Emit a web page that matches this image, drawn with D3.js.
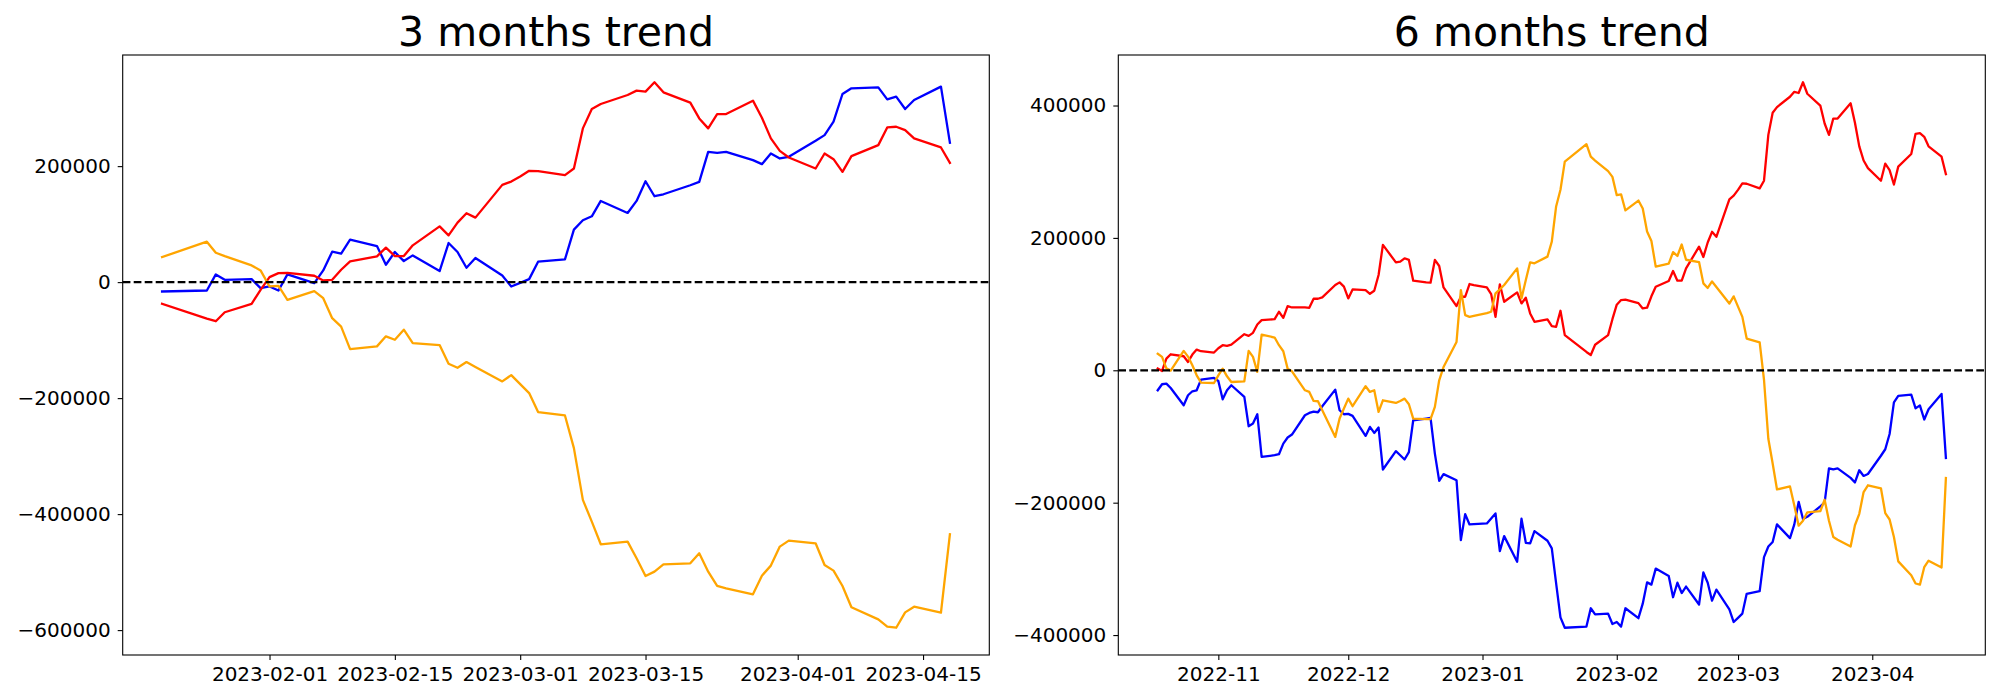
<!DOCTYPE html>
<html><head><meta charset="utf-8">
<script src="https://cdn.jsdelivr.net/npm/d3@7"></script>
<style>body{margin:0;background:#fff}</style>
</head><body>
<svg id="chart" width="2000" height="700"></svg>
<script>
// ---------- DATA ----------
const titles = ["3 months trend", "6 months trend"];

const dates3 = ["2023-01-20","2023-01-25","2023-01-26","2023-01-27","2023-01-30","2023-01-31",
"2023-02-01","2023-02-02","2023-02-03","2023-02-06","2023-02-07","2023-02-08","2023-02-09","2023-02-10","2023-02-13","2023-02-14","2023-02-15","2023-02-16","2023-02-17","2023-02-20","2023-02-21","2023-02-22","2023-02-23","2023-02-24","2023-02-27","2023-02-28",
"2023-03-01","2023-03-02","2023-03-03","2023-03-06","2023-03-07","2023-03-08","2023-03-09","2023-03-10","2023-03-13","2023-03-14","2023-03-15","2023-03-16","2023-03-17","2023-03-20","2023-03-21","2023-03-22","2023-03-23","2023-03-24","2023-03-27","2023-03-28","2023-03-29","2023-03-30","2023-03-31",
"2023-04-03","2023-04-04","2023-04-05","2023-04-06","2023-04-07","2023-04-10","2023-04-11","2023-04-12","2023-04-13","2023-04-14","2023-04-17","2023-04-18"];

const red3 = [-37400,-62800,-67400,-51900,-37400,-13300,
8600,15600,16100,11000,2900,4000,21300,35700,44400,59400,44900,44900,63400,96200,80700,102600,118700,111200,167700,173400,
182000,191900,191300,184400,195900,265100,298500,307100,322700,330200,328400,344600,327300,309400,282300,265100,289800,289800,312900,283500,247800,226400,214900,
195900,221800,212000,190100,217200,236200,266800,267900,262200,247800,232200,205700];

const blue3 = [-16100,-14400,13300,4000,5200,-10400,
-7500,-14400,13300,-1700,20200,52400,49000,73200,62200,30000,51900,36300,46100,19000,67400,51900,24800,41500,11500,-7500,
-1200,5200,35200,39200,90500,106600,113500,140000,119300,140000,174000,148100,151500,167100,172900,224700,223000,224700,210300,203400,221800,213200,216100,
243700,253500,276600,324400,334200,335900,315200,319800,298500,314000,337100,240300];

const orange3 = [43200,69700,50700,44900,28800,20200,
-7500,-6300,-30500,-15600,-27700,-62200,-76600,-115400,-110800,-93500,-99300,-82000,-105000,-108500,-140700,-147600,-137800,-146200,-171200,-160300,
-175800,-191300,-224100,-229900,-286300,-375500,-412900,-452000,-447500,-476200,-506700,-499200,-486500,-484900,-467600,-499200,-523900,-528000,-538300,-506100,-488800,-456000,-445700,
-450300,-487700,-497400,-523900,-560700,-581500,-594100,-595900,-569400,-559600,-570000,-434800];

const dates6 = ["2022-10-18","2022-10-19","2022-10-20","2022-10-21","2022-10-24","2022-10-25","2022-10-26","2022-10-27","2022-10-28","2022-10-31",
"2022-11-01","2022-11-02","2022-11-03","2022-11-04","2022-11-07","2022-11-08","2022-11-09","2022-11-10","2022-11-11","2022-11-14","2022-11-15","2022-11-16","2022-11-17","2022-11-18","2022-11-21","2022-11-22","2022-11-23","2022-11-24","2022-11-25","2022-11-28","2022-11-29","2022-11-30",
"2022-12-01","2022-12-02","2022-12-05","2022-12-06","2022-12-07","2022-12-08","2022-12-09","2022-12-12","2022-12-13","2022-12-14","2022-12-15","2022-12-16","2022-12-19","2022-12-20","2022-12-21","2022-12-22","2022-12-23","2022-12-26","2022-12-27","2022-12-28","2022-12-29","2022-12-30",
"2023-01-02","2023-01-03","2023-01-04","2023-01-05","2023-01-06","2023-01-09","2023-01-10","2023-01-11","2023-01-12","2023-01-13","2023-01-16","2023-01-17","2023-01-18","2023-01-19",
"2023-01-20","2023-01-25","2023-01-26","2023-01-27","2023-01-30","2023-01-31",
"2023-02-01","2023-02-02","2023-02-03","2023-02-06","2023-02-07","2023-02-08","2023-02-09","2023-02-10","2023-02-13","2023-02-14","2023-02-15","2023-02-16","2023-02-17","2023-02-20","2023-02-21","2023-02-22","2023-02-23","2023-02-24","2023-02-27","2023-02-28",
"2023-03-01","2023-03-02","2023-03-03","2023-03-06","2023-03-07","2023-03-08","2023-03-09","2023-03-10","2023-03-13","2023-03-14","2023-03-15","2023-03-16","2023-03-17","2023-03-20","2023-03-21","2023-03-22","2023-03-23","2023-03-24","2023-03-27","2023-03-28","2023-03-29","2023-03-30","2023-03-31",
"2023-04-03","2023-04-04","2023-04-05","2023-04-06","2023-04-07","2023-04-10","2023-04-11","2023-04-12","2023-04-13","2023-04-14","2023-04-17","2023-04-18"];

const red6 = [2500,-1000,17700,24200,21200,12600,23700,31300,28800,26800,
33300,37900,36900,38900,54500,52000,56600,69200,75800,77300,88400,79300,97000,94900,94900,94400,108100,108100,110100,128800,132800,126300,
108600,122200,121200,115600,120200,143900,189400,163100,164100,169200,166700,135300,132800,132300,166700,157600,125200,97000,111100,111100,130300,128800,
125200,115100,80800,129800,103500,117700,101000,109600,85900,73200,76800,66700,65700,89900,
53100,27700,23100,38600,53100,77200,
99100,106100,106600,101500,93400,94500,111800,126200,134900,149900,135400,135400,153900,186700,171200,193100,209200,201700,258200,263900,
272500,282400,281800,274900,286400,355600,389000,397600,413200,420700,418900,435100,417800,399900,372800,355600,380300,380300,403400,374000,338300,316900,305400,
286400,312300,302500,280600,307700,326700,357300,358400,352700,338300,322700,296200];

const blue6 = [-30200,-21100,-20100,-26700,-52800,-37700,-31700,-30200,-14100,-11600,
-16100,-43800,-30200,-22600,-40200,-84500,-80500,-66400,-130800,-128300,-126800,-110700,-101600,-97100,-67900,-64400,-62400,-63400,-54300,-29200,-60400,-66400,
-65900,-68900,-99100,-85500,-94600,-86500,-149900,-122200,-128300,-134800,-123700,-75500,-72900,-71900,-125800,-167000,-156900,-166000,-256500,-217300,-232900,-232400,
-231400,-223800,-216300,-273100,-250500,-289200,-224300,-260600,-261600,-243000,-257500,-269100,-321900,-373200,
-388900,-387200,-359500,-368800,-367600,-383200,
-380300,-387200,-359500,-374500,-352600,-320400,-323800,-299600,-310600,-342800,-320900,-336500,-326700,-353800,-305400,-320900,-348000,-331300,-361300,-380300,
-374000,-367600,-337600,-333600,-282300,-266200,-259300,-232800,-253500,-232800,-198800,-224700,-221300,-205700,-199900,-148100,-149800,-148100,-162500,-169400,-151000,-159600,-156700,
-129100,-119300,-96200,-48400,-38600,-36900,-57600,-53000,-74300,-58800,-35700,-132500];

const orange6 = [25000,20200,3000,-500,29300,20700,7600,-7600,-18700,-19200,
-7600,2500,-9100,-17700,-16700,29300,20200,-2500,54000,49500,37900,28800,2500,-1500,-30200,-32700,-46300,-46800,-60400,-100600,-72900,-57800,
-42800,-54300,-24100,-32700,-30200,-62900,-45300,-49300,-46300,-42800,-51300,-72900,-73900,-73900,-55300,-15100,5000,42800,121200,83300,80800,82300,
86400,88400,116200,122200,128800,154000,108600,136400,163100,161600,171700,194400,247500,272700,
315200,341700,322700,316900,300800,292200,
264500,265700,241500,256400,244300,209800,195400,156600,161200,178500,172700,190000,167000,163500,131300,124400,134200,125800,100800,111700,
96200,80700,47900,42100,-14300,-103500,-140900,-180000,-175500,-204200,-234700,-227200,-214500,-212900,-195600,-227200,-251900,-256000,-266300,-234100,-216800,-184000,-173700,
-178300,-215700,-225400,-251900,-288700,-309500,-322100,-323900,-297400,-287600,-298000,-162800];

const xTicks3 = ["2023-02-01","2023-02-15","2023-03-01","2023-03-15","2023-04-01","2023-04-15"];
const xTicks6 = ["2022-11-01","2022-12-01","2023-01-01","2023-02-01","2023-03-01","2023-04-01"];
const yTicks3 = [-600000,-400000,-200000,0,200000];
const yTicks6 = [-400000,-200000,0,200000,400000];
const seriesColors = ["blue","red","orange"];

// ---------- DRAW ----------
const svg = d3.select("#chart");
svg.append("rect").attr("width",2000).attr("height",700).attr("fill","#fff");
const parse = d3.utcParse("%Y-%m-%d");
const FONT = "DejaVu Sans, sans-serif";

function panel(opt){
  const {left,right,top,bottom,dates,series,xTicks,xFmt,yTicks,title} = opt;
  const ds = dates.map(parse);
  const [d0,d1] = d3.extent(ds);
  const span = d1 - d0;
  const x = d3.scaleUtc().domain([new Date(+d0 - span*0.05), new Date(+d1 + span*0.05)]).range([left,right]);
  const all = series.flat();
  const lo = d3.min(all), hi = d3.max(all), r = hi - lo;
  const y = d3.scaleLinear().domain([lo - r*0.05, hi + r*0.05]).range([bottom, top]);
  const g = svg.append("g");

  const line = d3.line().x((d,i)=>x(ds[i])).y(d=>y(d));
  series.forEach((s,k)=>{
    g.append("path").datum(s).attr("d",line).attr("fill","none")
      .attr("stroke",seriesColors[k]).attr("stroke-width",2.3)
      .attr("stroke-linejoin","round").attr("stroke-linecap","square");
  });
  // zero line
  g.append("line").attr("x1",left).attr("x2",right).attr("y1",y(0)).attr("y2",y(0))
    .attr("stroke","#000").attr("stroke-width",2.2).attr("stroke-dasharray","7.7,3.3");

  // x axis
  const xa = g.append("g").attr("transform",`translate(0,${bottom})`)
    .call(d3.axisBottom(x).tickValues(xTicks.map(parse)).tickFormat(d3.utcFormat(xFmt)).tickSizeInner(5).tickSizeOuter(0).tickPadding(7));
  xa.select(".domain").remove();
  xa.selectAll("line").attr("stroke","#000").attr("stroke-width",1.1);
  xa.selectAll("text").attr("font-family",FONT).attr("font-size",20).attr("fill","#000");

  const ya = g.append("g").attr("transform",`translate(${left},0)`)
    .call(d3.axisLeft(y).tickValues(yTicks).tickFormat(d3.format("d")).tickSizeInner(5).tickSizeOuter(0).tickPadding(7));
  ya.select(".domain").remove();
  ya.selectAll("line").attr("stroke","#000").attr("stroke-width",1.1);
  ya.selectAll("text").attr("font-family",FONT).attr("font-size",20).attr("fill","#000");

  // frame
  g.append("rect").attr("x",left).attr("y",top).attr("width",right-left).attr("height",bottom-top)
    .attr("fill","none").attr("stroke","#000").attr("stroke-width",1.1);

  g.append("text").attr("x",(left+right)/2).attr("y",top-9).attr("text-anchor","middle")
    .attr("font-family",FONT).attr("font-size",41).attr("fill","#000").text(title);
}

panel({left:122.7,right:989.3,top:55,bottom:655,dates:dates3,series:[blue3,red3,orange3],
  xTicks:xTicks3,xFmt:"%Y-%m-%d",yTicks:yTicks3,title:titles[0]});
panel({left:1118.3,right:1985.3,top:55,bottom:655,dates:dates6,series:[blue6,red6,orange6],
  xTicks:xTicks6,xFmt:"%Y-%m",yTicks:yTicks6,title:titles[1]});
</script>
</body></html>
